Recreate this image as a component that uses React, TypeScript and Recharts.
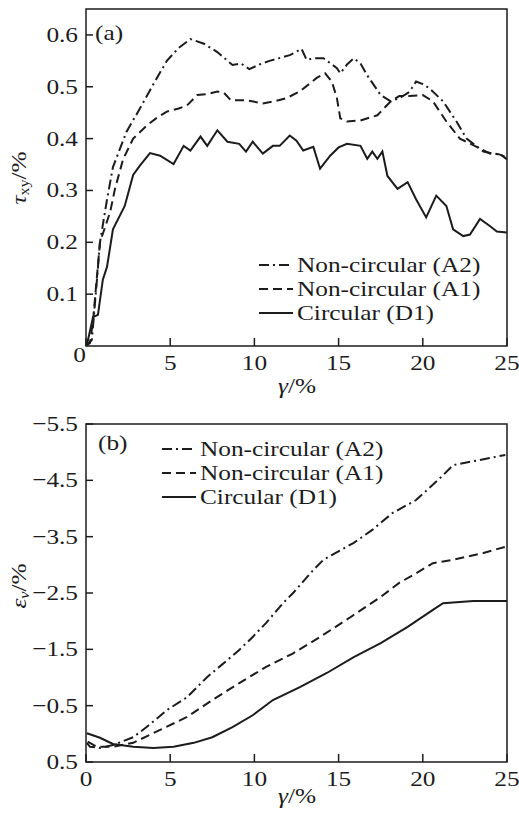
import { LineChart, Line, XAxis, YAxis, ReferenceArea, Legend } from 'recharts'

const FONT = '"Liberation Serif", "Times New Roman", serif'
const INK = '#1c1c1c'
const SX = 1.15 // the source typeface is set a bit wide

const X_TICKS = [0, 5, 10, 15, 20, 25]
const TAU_TICKS = [0, 0.1, 0.2, 0.3, 0.4, 0.5, 0.6]
const EPS_TICKS = [-5.5, -4.5, -3.5, -2.5, -1.5, -0.5, 0.5]

// (a) shear stress τxy vs γ
const gammaA2a = [0, 0.35, 0.65, 0.83, 1.25, 1.6, 2.4, 3.2, 4.0, 4.8, 5.5, 6.2, 7.0, 7.8, 8.7, 9.2, 9.7, 10.3, 10.9, 12.1, 12.8, 13.1, 13.6, 14.1, 14.9, 15.1, 15.5, 15.9, 16.3, 16.7, 17.5, 18.1, 18.6, 19.2, 19.6, 20.0, 20.4, 21.2, 22.0, 22.6, 23.6, 24.2, 24.6, 25.0]
const tauA2 = [0, 0.012, 0.128, 0.2, 0.283, 0.345, 0.413, 0.458, 0.505, 0.55, 0.575, 0.592, 0.583, 0.567, 0.542, 0.545, 0.534, 0.543, 0.55, 0.561, 0.573, 0.552, 0.555, 0.555, 0.536, 0.526, 0.543, 0.555, 0.545, 0.522, 0.484, 0.472, 0.478, 0.49, 0.51, 0.505, 0.497, 0.472, 0.433, 0.4, 0.375, 0.371, 0.37, 0.36]

const gammaA1a = [0, 0.24, 0.42, 0.83, 1.43, 1.72, 2.2, 2.8, 3.6, 4.2, 4.8, 5.5, 6.0, 6.6, 7.2, 7.8, 8.2, 8.6, 9.5, 10.5, 11.2, 11.9, 12.7, 13.7, 14.2, 14.6, 14.9, 15.1, 15.5, 16.3, 17.3, 18.1, 18.6, 19.2, 20.0, 20.6, 21.4, 22.2, 23.2, 24.0, 24.5, 24.9]
const tauA1 = [0, 0.006, 0.05, 0.2, 0.258, 0.303, 0.36, 0.4, 0.425, 0.44, 0.452, 0.458, 0.464, 0.484, 0.486, 0.491, 0.488, 0.474, 0.474, 0.468, 0.472, 0.478, 0.491, 0.517, 0.526, 0.51, 0.478, 0.439, 0.433, 0.435, 0.445, 0.472, 0.482, 0.482, 0.484, 0.472, 0.433, 0.4, 0.384, 0.371, 0.37, 0.365]

const gammaD1a = [0, 0.05, 0.42, 0.71, 1.0, 1.25, 1.6, 2.3, 2.8, 3.2, 3.8, 4.4, 5.2, 5.8, 6.2, 6.8, 7.2, 7.8, 8.4, 9.1, 9.5, 9.9, 10.5, 11.1, 11.5, 12.1, 12.5, 12.9, 13.5, 13.9, 14.5, 15.0, 15.5, 16.3, 16.7, 17.0, 17.3, 17.6, 17.9, 18.5, 19.1, 19.6, 20.2, 20.8, 21.4, 21.8, 22.4, 22.8, 23.4, 24.0, 24.4, 25.0]
const tauD1 = [0, 0.002, 0.056, 0.06, 0.128, 0.153, 0.225, 0.27, 0.33, 0.348, 0.372, 0.367, 0.351, 0.386, 0.377, 0.404, 0.386, 0.416, 0.394, 0.39, 0.375, 0.394, 0.371, 0.386, 0.386, 0.406, 0.396, 0.377, 0.384, 0.342, 0.367, 0.383, 0.39, 0.386, 0.361, 0.375, 0.361, 0.375, 0.328, 0.303, 0.316, 0.283, 0.248, 0.29, 0.27, 0.225, 0.212, 0.215, 0.245, 0.231, 0.221, 0.219]

// (b) volumetric strain εv vs γ
const gammaA2b = [0.05, 0.24, 0.83, 1.6, 2.8, 3.6, 4.8, 6.0, 7.2, 8.4, 9.1, 9.9, 10.7, 11.7, 12.3, 13.5, 14.1, 15.9, 17.0, 18.2, 19.6, 21.2, 21.8, 24.9]
const epsA2 = [0.16, 0.23, 0.25, 0.2, 0.06, -0.12, -0.42, -0.65, -1.01, -1.31, -1.49, -1.72, -1.97, -2.32, -2.5, -2.91, -3.09, -3.39, -3.62, -3.92, -4.15, -4.59, -4.77, -4.95]

const gammaA1b = [0.1, 0.65, 1.6, 2.8, 4.4, 6.0, 7.5, 9.1, 10.7, 12.3, 13.9, 15.7, 17.5, 18.6, 19.6, 20.6, 21.8, 23.6, 24.9]
const epsA1 = [0.14, 0.23, 0.23, 0.16, -0.07, -0.3, -0.6, -0.9, -1.19, -1.43, -1.72, -2.07, -2.43, -2.68, -2.85, -3.03, -3.09, -3.21, -3.32]

const gammaD1b = [0.05, 0.83, 1.6, 2.8, 4.0, 5.2, 6.4, 7.5, 8.7, 9.9, 11.1, 12.7, 14.3, 15.9, 17.5, 19.1, 20.6, 21.2, 23.0, 25.0]
const epsD1 = [-0.01, 0.07, 0.18, 0.23, 0.25, 0.23, 0.16, 0.06, -0.12, -0.33, -0.6, -0.83, -1.08, -1.36, -1.61, -1.9, -2.2, -2.32, -2.36, -2.36]

const SERIES = [
  { key: 'A2', name: 'Non-circular (A2)', dash: '10 4 2 4' },
  { key: 'A1', name: 'Non-circular (A1)', dash: '9 5' },
  { key: 'D1', name: 'Circular (D1)', dash: undefined as string | undefined },
]

function zip(xs: number[], ys: number[]) {
  return xs.map((x, i) => ({ x, y: ys[i] }))
}

function fmtEps(v: number) {
  return v < 0 ? `\u2212${Math.abs(v).toFixed(1)}` : v.toFixed(1)
}

// wide-set serif text, anchored at (tx, ty)
function T({ tx, ty, anchor = 'start', rotate = 0, children, ...rest }: any) {
  return (
    <text
      transform={`translate(${tx} ${ty}) rotate(${rotate}) scale(${SX} 1)`}
      textAnchor={anchor}
      fontFamily={FONT}
      fontSize={22}
      fill={INK}
      {...rest}
    >
      {children}
    </text>
  )
}

function XTick({ x, payload, bottom, hideZero }: any) {
  const v = payload.value
  return (
    <g>
      <line x1={x} x2={x} y1={bottom} y2={bottom - 8} stroke={INK} strokeWidth={1.5} />
      {!(hideZero && v === 0) && (
        <T tx={x} ty={bottom + 24} anchor="middle">
          {v}
        </T>
      )}
    </g>
  )
}

function YTick({ y, payload, left, fmt, zeroAt }: any) {
  const v = payload.value
  if (zeroAt && v === 0) {
    return (
      <T tx={zeroAt[0]} ty={zeroAt[1]} anchor="end">
        0
      </T>
    )
  }
  return (
    <g>
      <line x1={left} x2={left + 7} y1={y} y2={y} stroke={INK} strokeWidth={1.5} />
      <T tx={left - 8} ty={y + 7} anchor="end">
        {fmt(v)}
      </T>
    </g>
  )
}

function XLabel({ labelX, labelY }: any) {
  return (
    <T tx={labelX} ty={labelY} anchor="middle">
      <tspan fontStyle="italic">γ</tspan>/%
    </T>
  )
}

function YLabelA() {
  return (
    <g>
      <T tx={19} ty={178} rotate={-90} anchor="middle" dominantBaseline="central">
        <tspan fontStyle="italic">τ</tspan>
        <tspan fontSize={14} dy={5}>xy</tspan>
        <tspan dy={-5}>/%</tspan>
      </T>
      <T tx={95} ty={40}>(a)</T>
    </g>
  )
}

function YLabelB() {
  return (
    <g>
      <T tx={19} ty={186} rotate={-90} anchor="middle" dominantBaseline="central">
        <tspan fontStyle="italic">ε</tspan>
        <tspan fontSize={14} fontStyle="italic" dy={5}>v</tspan>
        <tspan dy={-5}>/%</tspan>
      </T>
      <T tx={98} ty={50}>(b)</T>
    </g>
  )
}

function LegendBox({ rowH }: { rowH: number }) {
  return (
    <div style={{ fontFamily: FONT, fontSize: 22, color: INK }}>
      {SERIES.map((s) => (
        <div key={s.key} style={{ display: 'flex', alignItems: 'center', height: rowH }}>
          <svg width={34} height={6} style={{ marginRight: 4 }}>
            <line x1={0} x2={34} y1={3} y2={3} stroke={INK} strokeWidth={2} strokeDasharray={s.dash} />
          </svg>
          <span
            style={{
              whiteSpace: 'nowrap',
              display: 'inline-block',
              lineHeight: '20px',
              transform: `scaleX(${SX})`,
              transformOrigin: 'left center',
            }}
          >
            {s.name}
          </span>
        </div>
      ))}
    </div>
  )
}

function ShearChart() {
  const lines = [zip(gammaA2a, tauA2), zip(gammaA1a, tauA1), zip(gammaD1a, tauD1)]
  return (
    <LineChart width={519} height={400} margin={{ top: 9, right: 12, left: 0, bottom: 0 }}>
      <XAxis
        dataKey="x"
        type="number"
        domain={[0, 25]}
        ticks={X_TICKS}
        height={54}
        axisLine={false}
        tickLine={false}
        allowDataOverflow
        tick={<XTick bottom={346} hideZero />}
        label={<XLabel labelX={297} labelY={393} />}
      />
      <YAxis
        type="number"
        domain={[0, 0.65]}
        ticks={TAU_TICKS}
        width={86}
        axisLine={false}
        tickLine={false}
        allowDataOverflow
        tick={<YTick left={86} fmt={(v: number) => v.toFixed(1)} zeroAt={[86, 362]} />}
        label={<YLabelA />}
      />
      <ReferenceArea x1={0} x2={25} y1={0} y2={0.65} fill="none" stroke={INK} strokeWidth={1.5} ifOverflow="visible" />
      {SERIES.map((s, i) => (
        <Line
          key={s.key}
          data={lines[i]}
          dataKey="y"
          name={s.name}
          type="linear"
          stroke={INK}
          strokeWidth={2}
          strokeDasharray={s.dash}
          dot={false}
          isAnimationActive={false}
        />
      ))}
      <Legend
        layout="vertical"
        verticalAlign="middle"
        align="center"
        wrapperStyle={{ left: 259, top: 253, width: 'auto' }}
        content={() => <LegendBox rowH={24} />}
      />
    </LineChart>
  )
}

function VolumeChart() {
  const lines = [zip(gammaA2b, epsA2), zip(gammaA1b, epsA1), zip(gammaD1b, epsD1)]
  return (
    <LineChart width={519} height={414} margin={{ top: 24, right: 12, left: 0, bottom: 0 }}>
      <XAxis
        dataKey="x"
        type="number"
        domain={[0, 25]}
        ticks={X_TICKS}
        height={52}
        axisLine={false}
        tickLine={false}
        allowDataOverflow
        tick={<XTick bottom={362} />}
        label={<XLabel labelX={297} labelY={403} />}
      />
      <YAxis
        type="number"
        domain={[-5.5, 0.5]}
        ticks={EPS_TICKS}
        reversed
        width={86}
        axisLine={false}
        tickLine={false}
        allowDataOverflow
        tick={<YTick left={86} fmt={fmtEps} />}
        label={<YLabelB />}
      />
      <ReferenceArea x1={0} x2={25} y1={-5.5} y2={0.5} fill="none" stroke={INK} strokeWidth={1.5} ifOverflow="visible" />
      {SERIES.map((s, i) => (
        <Line
          key={s.key}
          data={lines[i]}
          dataKey="y"
          name={s.name}
          type="linear"
          stroke={INK}
          strokeWidth={2}
          strokeDasharray={s.dash}
          dot={false}
          isAnimationActive={false}
        />
      ))}
      <Legend
        layout="vertical"
        verticalAlign="middle"
        align="center"
        wrapperStyle={{ left: 162, top: 37, width: 'auto' }}
        content={() => <LegendBox rowH={24} />}
      />
    </LineChart>
  )
}

export default function App() {
  return (
    <div style={{ position: 'absolute', left: 0, top: 0, width: 519, height: 814, background: '#fff' }}>
      <div style={{ position: 'relative', height: 400 }}>
        <ShearChart />
      </div>
      <div style={{ position: 'relative', height: 414 }}>
        <VolumeChart />
      </div>
    </div>
  )
}
